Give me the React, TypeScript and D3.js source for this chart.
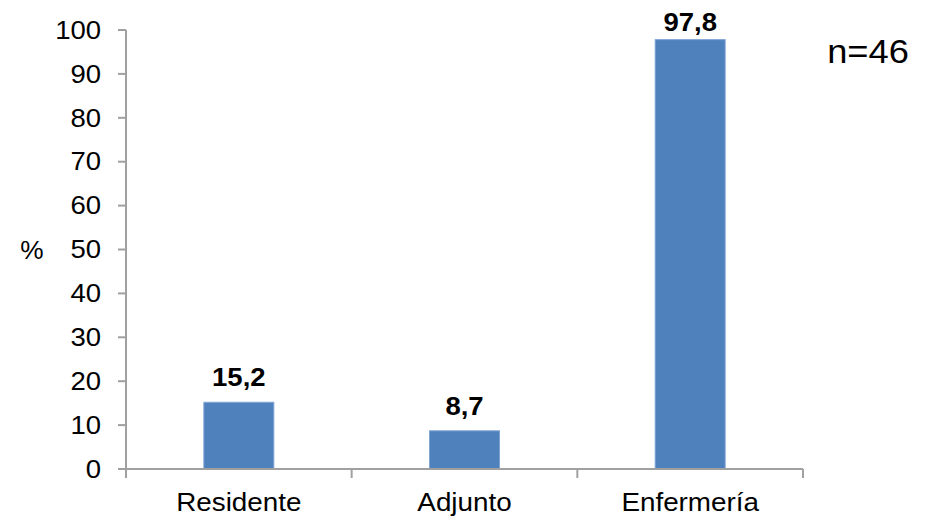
import React from "react";
import * as d3 from "d3";

const categories = ["Residente", "Adjunto", "Enfermería"];
const values = [15.2, 8.7, 97.8];
const labels = ["15,2", "8,7", "97,8"];
const yTicks = [0, 10, 20, 30, 40, 50, 60, 70, 80, 90, 100];

function T({ x, y, sx = 1.08, children, ...rest }: any) {
  return (
    <text transform={`translate(${x},${y}) scale(${sx},1)`} fill="#000" {...rest}>{children}</text>
  );
}

export default function App() {
  const W = 932, H = 516;
  const left = 126, right = 803, top = 30, bottom = 469;
  const x = d3.scaleBand<string>().domain(categories).range([left, right]).paddingInner(0.69).paddingOuter(0.345);
  const y = d3.scaleLinear().domain([0, 100]).range([bottom, top]);
  const step = (right - left) / categories.length;
  const axisColor = "#a0a0a0";
  const font = "Liberation Sans, Arial, sans-serif";
  return (
    <svg width={W} height={H} style={{ position: "absolute", left: 0, top: 0, background: "#fff" }} fontFamily={font}>
      {categories.map((c, i) => (
        <rect key={c} x={x(c)} y={y(values[i])} width={x.bandwidth()} height={bottom - y(values[i])}
          fill="#4F81BD" stroke="#7FA3D4" strokeWidth={1} />
      ))}
      <line x1={left} x2={left} y1={top} y2={bottom} stroke={axisColor} strokeWidth={2} />
      {yTicks.map(t => (
        <g key={t}>
          <line x1={left - 8} x2={left} y1={y(t)} y2={y(t)} stroke={axisColor} strokeWidth={2} />
          <T x={left - 25} y={y(t)} sx={1.1} dy="0.35em" textAnchor="end" fontSize={25}>{t}</T>
        </g>
      ))}
      <line x1={left} x2={right} y1={bottom} y2={bottom} stroke={axisColor} strokeWidth={2} />
      {d3.range(categories.length + 1).map(i => (
        <line key={i} x1={left + i * step} x2={left + i * step} y1={bottom} y2={bottom + 9} stroke={axisColor} strokeWidth={2} />
      ))}
      {categories.map(c => (
        <T key={c} x={(x(c) as number) + x.bandwidth() / 2} y={511} sx={1.05} textAnchor="middle" fontSize={26.5}>{c}</T>
      ))}
      {categories.map((c, i) => (
        <T key={c + "l"} x={(x(c) as number) + x.bandwidth() / 2} y={Math.max(y(values[i]) - 16, 31)}
          sx={1.1} textAnchor="middle" fontSize={25} fontWeight="bold">{labels[i]}</T>
      ))}
      <T x={32} y={250} sx={1.05} dy="0.35em" textAnchor="middle" fontSize={25}>%</T>
      <T x={868} y={63} sx={1.1} textAnchor="middle" fontSize={33}>n=46</T>
    </svg>
  );
}
